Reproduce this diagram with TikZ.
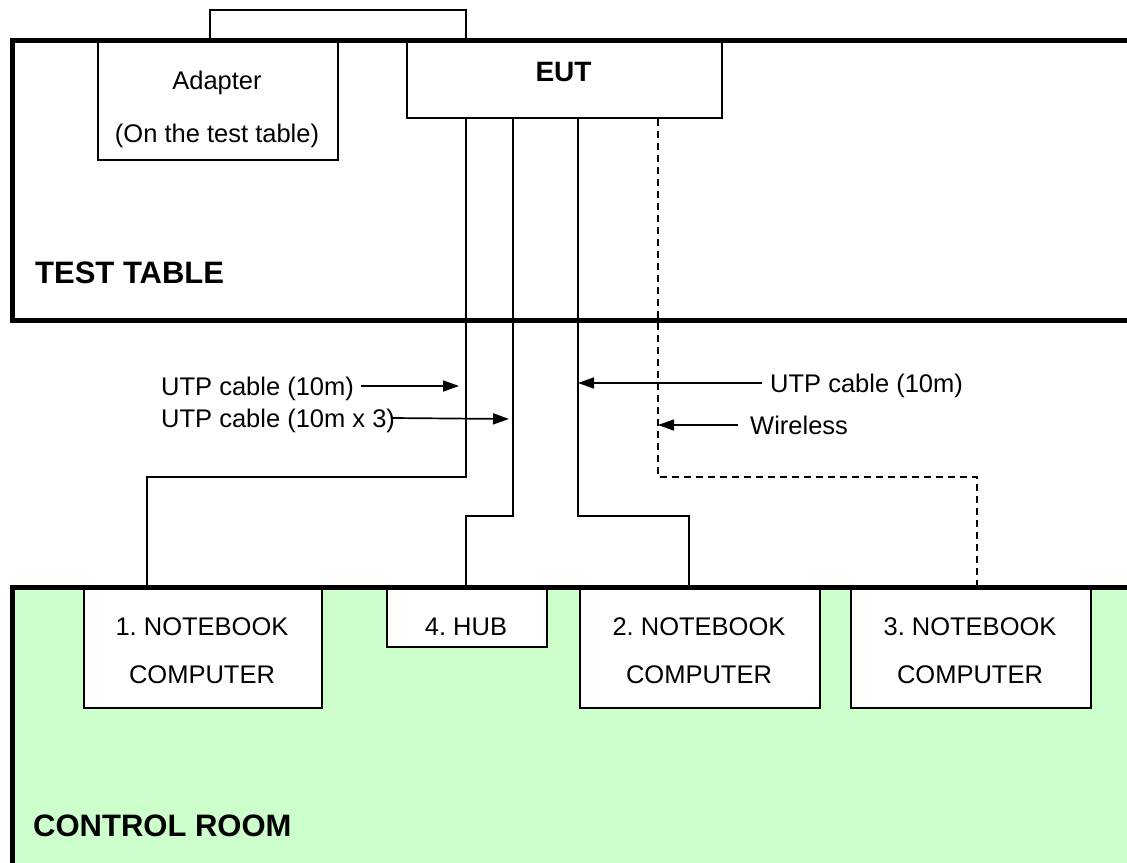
\documentclass[tikz,border=0pt]{standalone}
\usepackage{fontspec}
\setmainfont{Liberation Sans}
\usetikzlibrary{arrows.meta}
\definecolor{roomgreen}{HTML}{CCFFCC}
\begin{document}
\frenchspacing
\begin{tikzpicture}[x=1pt,y=-1pt,
  box/.style={draw,fill=white,line width=1.7pt,anchor=north west,inner sep=0pt},
  txt/.style={font=\fontsize{25.5}{30}\selectfont,inner sep=0pt,text height=18.3pt,text depth=0pt},
  btxt/.style={font=\bfseries\fontsize{31}{36}\selectfont,inner sep=0pt,text height=22.2pt,text depth=0pt},
  eutxt/.style={font=\bfseries\fontsize{28}{32}\selectfont,inner sep=0pt,text height=20pt,text depth=0pt},
  wire/.style={line width=1.7pt},
  wless/.style={line width=1.7pt,dash pattern=on 7pt off 5pt},
  border/.style={line width=5pt},
  arr/.style={line width=1.7pt,-{Triangle[length=16pt,width=11pt]}},
  thinarr/.style={line width=1.1pt,-{Triangle[length=16pt,width=11pt]}}]
\useasboundingbox (0,0) rectangle (1127,862);
\clip (0,0) rectangle (1127,862);

% control room area
\fill[roomgreen] (12.5,587) rectangle (1140,880);

% boxes
\node[box,minimum width=240pt,minimum height=119pt] (adapter) at (97,40) {};
\node[box,minimum width=315pt,minimum height=77pt] (eut) at (406,40) {};
\node[box,minimum width=238pt,minimum height=120pt] (nb1) at (83,587) {};
\node[box,minimum width=160pt,minimum height=59pt] (hub) at (386,587) {};
\node[box,minimum width=240pt,minimum height=120pt] (nb2) at (579,587) {};
\node[box,minimum width=240pt,minimum height=120pt] (nb3) at (850,587) {};

% thick borders
\draw[border] (1140,40) -- (12.5,40) -- (12.5,320) -- (1140,320);
\draw[border] (12.5,880) -- (12.5,587) -- (1140,587);

% box texts
\node[txt] (adt1) at (217,80) {Adapter};
\node[txt] (adt2) at (217,133) {(On the test table)};
\node[eutxt] (eutt) at (563.5,71.5) {EUT};
\node[txt] (nb1a) at (202,626) {1. NOTEBOOK};
\node[txt] (nb1b) at (202,674) {COMPUTER};
\node[txt] (hubt) at (466,626) {4. HUB};
\node[txt] (nb2a) at (699,626) {2. NOTEBOOK};
\node[txt] (nb2b) at (699,674) {COMPUTER};
\node[txt] (nb3a) at (970,626) {3. NOTEBOOK};
\node[txt] (nb3b) at (970,674) {COMPUTER};
\node[btxt,anchor=west] (tt) at (35,272.5) {TEST TABLE};
\node[btxt,anchor=west] (cr) at (33,825) {CONTROL ROOM};

% connectors
\draw[wire] ([xshift=113pt]adapter.north west) |- (466,10) -- ([xshift=60pt]eut.north west);
\draw[wire] ([xshift=60pt]eut.south west) |- (147,477) -- ([xshift=64pt]nb1.north west);
\draw[wire] ([xshift=107pt]eut.south west) |- (466,516) -- ([xshift=80pt]hub.north west);
\draw[wire] ([xshift=172pt]eut.south west) |- (689,516) -- ([xshift=110pt]nb2.north west);
\draw[wless] ([xshift=252pt]eut.south west) |- (977,477) -- ([xshift=127pt]nb3.north west);

% labels with arrows
\node[txt,anchor=west] (l1) at (161,386) {UTP cable (10m)};
\node[txt,anchor=west] (l2) at (161,418) {UTP cable (10m x 3)};
\node[txt,anchor=west] (r1) at (770,383) {UTP cable (10m)};
\node[txt,anchor=west] (w1) at (750,425) {Wireless};
\coordinate (t1) at (459,386);
\coordinate (t2) at (509,419);
\coordinate (t3) at (578,383);
\coordinate (t4) at (658,425);
\draw[arr] ([xshift=7pt]l1.east) -- (t1);
\draw[arr] ([xshift=-3pt]l2.east) -- (t2);
\draw[arr] ([xshift=-8pt]r1.west) -- (t3);
\draw[thinarr] ([xshift=-12pt]w1.west) -- (t4);
\end{tikzpicture}
\end{document}
